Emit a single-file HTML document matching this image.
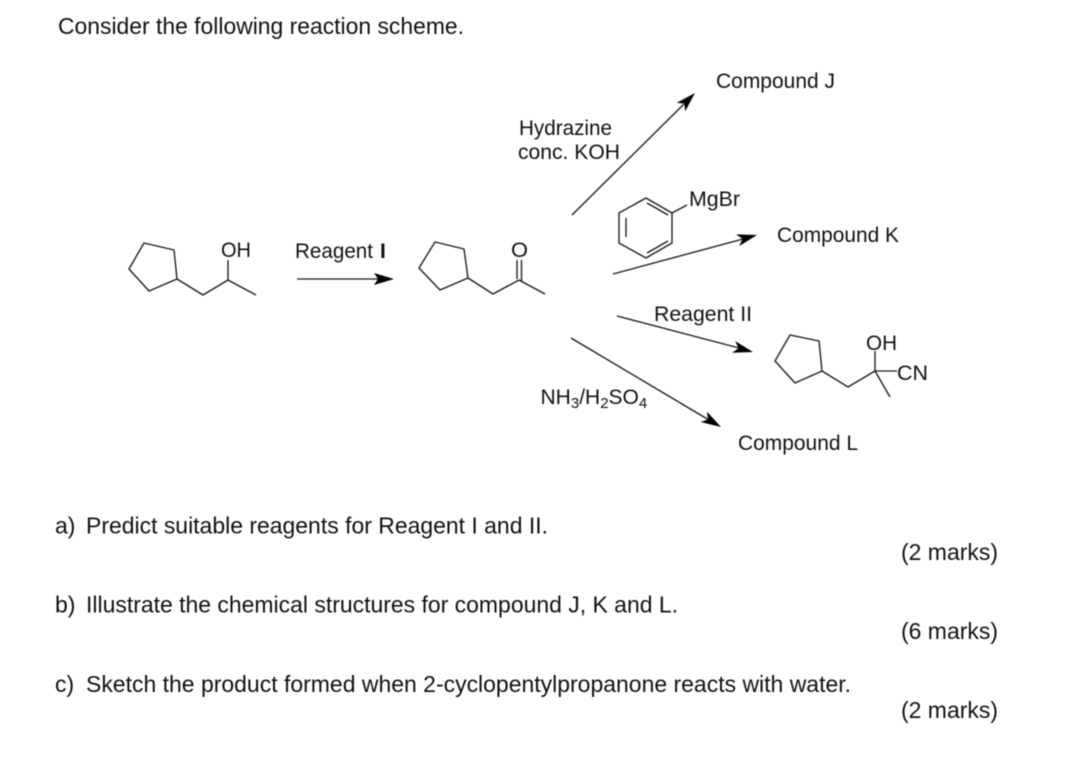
<!DOCTYPE html>
<html>
<head>
<meta charset="utf-8">
<style>
html,body{margin:0;padding:0;background:#fff;width:1075px;height:759px;overflow:hidden}
svg{display:block;filter:blur(0.4px)}
text{font-family:"Liberation Sans",Arial,sans-serif;fill:#111}
.m{font-size:23px}
.s{font-size:21px}
.b{fill:none;stroke:#1a1a1a;stroke-width:1.35;stroke-linejoin:round;stroke-linecap:butt}
.a{fill:none;stroke:#1a1a1a;stroke-width:1.35}
.h{fill:#000;stroke:none}
</style>
</head>
<body>
<svg width="1075" height="759" viewBox="0 0 1075 759" xmlns="http://www.w3.org/2000/svg">
<text class="m" x="58" y="34" textLength="406" lengthAdjust="spacingAndGlyphs">Consider the following reaction scheme.</text>

<!-- Alcohol -->
<polygon class="b" points="129,269 144,243 174,250 177,279 149,291"/>
<polyline class="b" points="177,279 203,295 228,280 256,295"/>
<line class="b" x1="228" y1="280" x2="228" y2="260"/>
<text class="s" x="221" y="257" textLength="30" lengthAdjust="spacingAndGlyphs">OH</text>

<!-- Reagent I -->
<text class="s" x="295" y="258" textLength="78" lengthAdjust="spacingAndGlyphs">Reagent</text>
<text class="s" x="380" y="258" style="font-weight:bold">I</text>
<line class="a" x1="297" y1="279" x2="378" y2="279"/>
<polygon class="h" points="394,279 374,273 378,279 374,285"/>

<!-- Ketone -->
<polygon class="b" points="419,268 435,242 464,249 468,278 440,290"/>
<polyline class="b" points="468,278 493,294 519,280 545,294"/>
<line class="b" x1="517" y1="279" x2="517" y2="260"/>
<line class="b" x1="521.5" y1="281" x2="521.5" y2="260"/>
<text class="s" x="511" y="257" textLength="17" lengthAdjust="spacingAndGlyphs">O</text>

<!-- Arrow J -->
<text class="s" x="519" y="135" textLength="93" lengthAdjust="spacingAndGlyphs">Hydrazine</text>
<text class="s" x="518" y="159" textLength="102" lengthAdjust="spacingAndGlyphs">conc. KOH</text>
<line class="a" x1="572" y1="215" x2="684" y2="104"/>
<polygon class="h" points="695,93 685.2,111.3 684.4,103.6 676.8,102.7"/>
<text class="s" x="716" y="88" textLength="119" lengthAdjust="spacingAndGlyphs">Compound J</text>

<!-- Benzene + MgBr -->
<polygon class="b" points="646,198 672,213 672,243 646,258 619,243 619,213"/>
<line class="b" x1="626" y1="218" x2="626" y2="237"/>
<line class="b" x1="647" y1="203" x2="668" y2="215"/>
<line class="b" x1="647" y1="253" x2="668" y2="241"/>
<line class="b" x1="672" y1="213" x2="687" y2="205"/>
<text class="s" x="689" y="206" textLength="51" lengthAdjust="spacingAndGlyphs">MgBr</text>

<!-- Arrow K -->
<line class="a" x1="613" y1="274" x2="743" y2="239"/>
<polygon class="h" points="757,235 739.3,246 742.5,238.9 736.1,234.4"/>
<text class="s" x="777" y="242" textLength="122" lengthAdjust="spacingAndGlyphs">Compound K</text>

<!-- Arrow II -->
<text class="s" x="654" y="321" textLength="98" lengthAdjust="spacingAndGlyphs">Reagent II</text>
<line class="a" x1="617" y1="316" x2="739" y2="348"/>
<polygon class="h" points="753,352 732.2,352.7 738.5,348.2 735.2,341.1"/>

<!-- Cyanohydrin -->
<polygon class="b" points="775,361 790,335 819,341 822,371 795,383"/>
<polyline class="b" points="822,371 848,387 875,371 890,397"/>
<line class="b" x1="875" y1="371" x2="875" y2="351"/>
<line class="b" x1="875" y1="371" x2="897" y2="371"/>
<text class="s" x="866" y="350" textLength="31" lengthAdjust="spacingAndGlyphs">OH</text>
<text class="s" x="897" y="380" textLength="31" lengthAdjust="spacingAndGlyphs">CN</text>

<!-- Arrow L -->
<line class="a" x1="571" y1="338" x2="709" y2="420"/>
<polygon class="h" points="721,427 700.7,422 708.1,419.4 706.9,411.6"/>
<text class="s" x="540.5" y="404">NH<tspan font-size="15" dy="4">3</tspan><tspan dy="-4">/H</tspan><tspan font-size="15" dy="4">2</tspan><tspan dy="-4">SO</tspan><tspan font-size="15" dy="4">4</tspan></text>
<text class="s" x="738" y="450" textLength="120" lengthAdjust="spacingAndGlyphs">Compound L</text>

<!-- Questions -->
<text class="m" x="55" y="533.5">a)</text>
<text class="m" x="86" y="533.5" textLength="462" lengthAdjust="spacingAndGlyphs">Predict suitable reagents for Reagent I and II.</text>
<text class="m" x="901" y="560" textLength="97" lengthAdjust="spacingAndGlyphs">(2 marks)</text>
<text class="m" x="55" y="612.5">b)</text>
<text class="m" x="86" y="612.5" textLength="592" lengthAdjust="spacingAndGlyphs">Illustrate the chemical structures for compound J, K and L.</text>
<text class="m" x="901" y="639" textLength="97" lengthAdjust="spacingAndGlyphs">(6 marks)</text>
<text class="m" x="55" y="692">c)</text>
<text class="m" x="86" y="692" textLength="765" lengthAdjust="spacingAndGlyphs">Sketch the product formed when 2-cyclopentylpropanone reacts with water.</text>
<text class="m" x="901" y="718" textLength="97" lengthAdjust="spacingAndGlyphs">(2 marks)</text>
</svg>
</body>
</html>
